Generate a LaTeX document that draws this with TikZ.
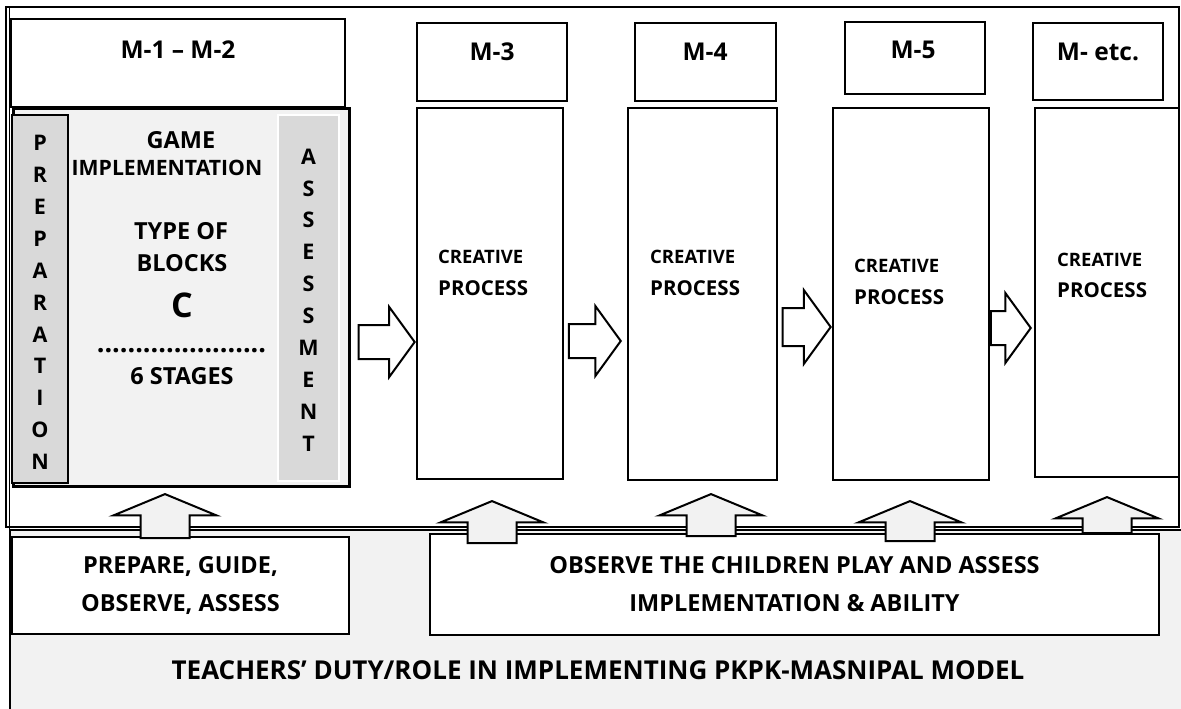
\documentclass[tikz,border=0pt]{standalone}
\usepackage{fontspec}
\setmainfont{Open Sans}
\usetikzlibrary{shapes.arrows,positioning}
\definecolor{baseGray}{HTML}{F2F2F2}
\definecolor{stripGray}{HTML}{D9D9D9}

\begin{document}
\begin{tikzpicture}[
    x=1pt, y=-1pt,
    mbox/.style={draw, line width=2.2pt, fill=white, inner sep=0pt},
    strip/.style={fill=stripGray, inner sep=0pt},
    lbl/.style={inner sep=0pt, font=\bfseries\fontsize{23.5}{28}\selectfont},
    hdr/.style={inner sep=0pt, font=\bfseries\fontsize{24.5}{28}\selectfont},
    letters/.style={inner sep=0pt, align=center, font=\bfseries\fontsize{21.5}{31.9}\selectfont},
    creat/.style={inner sep=0pt, anchor=west, font=\bfseries\fontsize{18.5}{20}\selectfont},
    proc/.style={inner sep=0pt, anchor=west, font=\bfseries\fontsize{20.5}{24}\selectfont},
    duty/.style={inner sep=0pt, align=center, font=\bfseries\fontsize{23.5}{38}\selectfont},
    rarrow/.style={single arrow, draw, line width=2pt, fill=white,
        inner xsep=0pt, inner ysep=16pt,
        minimum width=68pt, single arrow head extend=18pt,
        single arrow tip angle=108, anchor=tip},
    uarrow/.style={single arrow, shape border rotate=90, draw, line width=2pt,
        fill=baseGray, inner xsep=23.5pt, inner ysep=0pt, minimum width=101pt,
        single arrow head extend=27pt, single arrow tip angle=135, anchor=tip}
]
\useasboundingbox (0,0) rectangle (1181,709);

% teachers' band and outer frame
\fill[baseGray] (10,530) rectangle (1181,709);
\draw[line width=2pt] (10,709) -- (10,530) -- (1181,530);
\draw[line width=2.2pt] (6,7) rectangle (1179,527);
\draw[line width=1pt] (9.5,7) -- (9.5,709);

% M-1 -- M-2 block
\node[mbox, minimum width=334pt, minimum height=88pt] (Hdr12) at (178,63) {};
\node[mbox, fill=baseGray, line width=3pt, minimum width=336pt, minimum height=378pt] (Game) at (181,297) {};
\node[strip, draw, line width=1.6pt, minimum width=56pt, minimum height=368pt] (Prep) at (40,299) {};
\node[strip, draw=white, line width=2.5pt, minimum width=61pt, minimum height=366pt] (Assess) at (308.5,298) {};

\node[hdr] (Hdr12Text) at (178,50) {M-1 – M-2};
\node[letters] (PrepText) at (Prep.center |- 0,302.5) {P\\R\\E\\P\\A\\R\\A\\T\\I\\O\\N};
\node[letters] (AssessText) at (Assess.center |- 0,300) {A\\S\\S\\E\\S\\S\\M\\E\\N\\T};
\node[lbl] (GameText) at (181,140) {GAME};
\node[lbl, font=\bfseries\fontsize{21.2}{28}\selectfont] (ImplText) at (167,168) {IMPLEMENTATION};
\node[lbl] (TypeText) at (181,231) {TYPE OF};
\node[lbl] (BlocksText) at (182,263) {BLOCKS};
\node[lbl, font=\bfseries\fontsize{34}{36}\selectfont] (CText) at (182,305) {C};
\node[lbl, font=\bfseries\fontsize{27}{30}\selectfont] (Dots) at (181.5,351) {......................};
\node[lbl] (StagesText) at (182,376) {6 STAGES};

% later meetings
\node[mbox, minimum width=150pt, minimum height=78pt] (Hdr3) at (492,62) {};
\node[mbox, minimum width=146pt, minimum height=371pt] (Body3) at (490,293.5) {};
\node[mbox, minimum width=141pt, minimum height=78pt] (Hdr4) at (705.5,62) {};
\node[mbox, minimum width=149pt, minimum height=372pt] (Body4) at (702.5,294) {};
\node[mbox, minimum width=140pt, minimum height=72pt] (Hdr5) at (915,58) {};
\node[mbox, minimum width=156pt, minimum height=372pt] (Body5) at (911,294) {};
\node[mbox, minimum width=130pt, minimum height=77pt] (Hdr6) at (1098,61.5) {};
\node[mbox, minimum width=144pt, minimum height=369pt] (Body6) at (1107,292.5) {};

\node[hdr] (Hdr3Text) at (492,52) {M-3};
\node[hdr] (Hdr4Text) at (705,52) {M-4};
\node[hdr] (Hdr5Text) at (913,50) {M-5};
\node[hdr] (Hdr6Text) at (1098,52) {M- etc.};

\node[creat] (Cre3) at (438,257) {CREATIVE};
\node[proc] (Pro3) at (438,288) {PROCESS};
\node[creat] (Cre4) at (650,257) {CREATIVE};
\node[proc] (Pro4) at (650,288) {PROCESS};
\node[creat] (Cre5) at (854,266) {CREATIVE};
\node[proc] (Pro5) at (854,297) {PROCESS};
\node[creat] (Cre6) at (1057,260) {CREATIVE};
\node[proc] (Pro6) at (1057,290) {PROCESS};

% teachers' duties
\node[mbox, minimum width=337pt, minimum height=97pt] (Guide) at (180.5,585.5) {};
\node[mbox, minimum width=729pt, minimum height=101pt] (Observe) at (794.5,584.5) {};
\node[duty] (GuideText) at (Guide.center) {PREPARE, GUIDE,\\OBSERVE, ASSESS};
\node[duty] (ObserveText) at (Observe.center) {OBSERVE THE CHILDREN PLAY AND ASSESS\\IMPLEMENTATION \& ABILITY};
\node[lbl, font=\bfseries\fontsize{26}{30}\selectfont] (RoleText) at (598,670) {TEACHERS’ DUTY/ROLE IN IMPLEMENTING PKPK-MASNIPAL MODEL};

% block arrows
\node[rarrow, minimum height=56pt] (Go3) at (Body3.west |- 0,342) {};
\node[rarrow, minimum height=52pt] (Go4) at (622,341) {};
\node[rarrow, minimum height=48pt, inner ysep=18pt, minimum width=72pt] (Go5) at (Body5.west |- 0,327) {};
\node[rarrow, minimum height=40pt, minimum width=67pt] (Go6) at (1032,328) {};

\node[uarrow, minimum height=44pt] (Up12) at (165,493) {};
\node[uarrow, minimum height=42pt] (Up3) at (492,500) {};
\node[uarrow, minimum height=42pt] (Up4) at (711,493) {};
\node[uarrow, minimum height=40pt] (Up5) at (910,500) {};
\node[uarrow, minimum height=36pt] (Up6) at (1107,496) {};

\end{tikzpicture}
\end{document}
